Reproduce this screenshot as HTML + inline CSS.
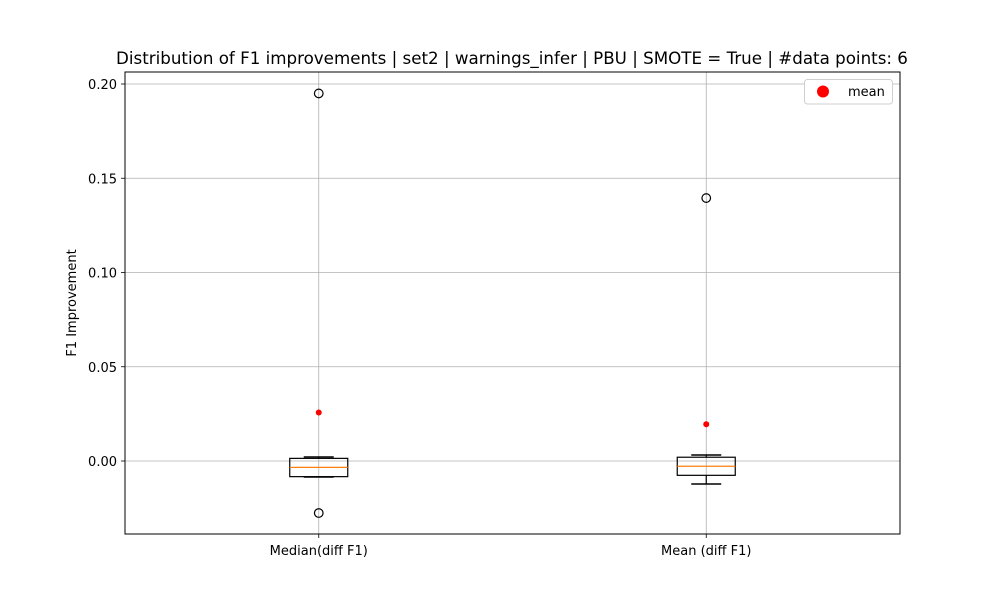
<!DOCTYPE html>
<html><head><meta charset="utf-8"><style>
body{margin:0;background:#fff;}
svg{display:block;font-family:"DejaVu Sans","Liberation Sans",sans-serif;}
</style></head><body>
<svg id="chart" width="1000" height="600"></svg>
<script>
const categories=["Median(diff F1)","Mean (diff F1)"];
const q1s=[-0.0083,-0.0076];
const medians=[-0.0034,-0.0028];
const q3s=[0.0014,0.0020];
const whiskerLows=[-0.0085,-0.0122];
const whiskerHighs=[0.0021,0.0032];
const means=[0.0257,0.0195];
const outliers=[[0.195,-0.0276],[0.1395]];
const yTicks=[0.00,0.05,0.10,0.15,0.20];
const yTickLabels=["0.00","0.05","0.10","0.15","0.20"];

const NS="http://www.w3.org/2000/svg";
const svg=document.getElementById('chart');
const L=125,R=900,T=72,B=534;
const y=v=>461-1885*v;
const x=i=>L+(R-L)*(i+0.5)/categories.length;
function mk(tag,attrs,parent){const e=document.createElementNS(NS,tag);for(const k in attrs)e.setAttribute(k,attrs[k]);(parent||svg).appendChild(e);return e;}

let t=mk('text',{x:512,y:64,'text-anchor':'middle','font-size':16.7});
t.textContent="Distribution of F1 improvements | set2 | warnings_infer | PBU | SMOTE = True | #data points: 6";



yTicks.forEach((v,i)=>{
  const g=mk('line',{x1:L,x2:R,y1:y(v),y2:y(v),stroke:'#b0b0b0','stroke-width':0.8});
  
  
  mk('line',{x1:L-4,x2:L,y1:y(v),y2:y(v),stroke:'#000','stroke-width':0.8});
  const lb=mk('text',{x:L-8,y:y(v)+5,'text-anchor':'end','font-size':13});
  lb.textContent=yTickLabels[i];
  
  
});
categories.forEach((c,i)=>{
  const g=mk('line',{x1:x(i),x2:x(i),y1:T,y2:B,stroke:'#b0b0b0','stroke-width':0.8});
  
  
  mk('line',{x1:x(i),x2:x(i),y1:B,y2:B+4,stroke:'#000','stroke-width':0.8});
  const lb=mk('text',{x:x(i),y:B+21,'text-anchor':'middle','font-size':13});
  lb.textContent=c;
  
  
});
const yl=mk('text',{x:76,y:303,'text-anchor':'middle','font-size':13,transform:'rotate(-90 76 303)'});
yl.textContent="F1 Improvement";



categories.forEach((c,i)=>{
  const cx=x(i),bw=29,cw=15;
  const g=mk('g',{});
  
  
  mk('line',{x1:cx,x2:cx,y1:y(q3s[i]),y2:y(whiskerHighs[i]),stroke:'#000','stroke-width':1.2},g);
  mk('line',{x1:cx,x2:cx,y1:y(q1s[i]),y2:y(whiskerLows[i]),stroke:'#000','stroke-width':1.2},g);
  mk('line',{x1:cx-cw,x2:cx+cw,y1:y(whiskerHighs[i]),y2:y(whiskerHighs[i]),stroke:'#000','stroke-width':1.5},g);
  mk('line',{x1:cx-cw,x2:cx+cw,y1:y(whiskerLows[i]),y2:y(whiskerLows[i]),stroke:'#000','stroke-width':1.5},g);
  mk('rect',{x:cx-bw,y:y(q3s[i]),width:2*bw,height:y(q1s[i])-y(q3s[i]),fill:'none',stroke:'#000','stroke-width':1.2},g);
  mk('line',{x1:cx-bw,x2:cx+bw,y1:y(medians[i]),y2:y(medians[i]),stroke:'#ff7f0e','stroke-width':1.2},g);
  outliers[i].forEach(v=>{
    const o=mk('circle',{cx:cx,cy:y(v),r:4.3,fill:'none',stroke:'#000','stroke-width':1.2},g);
    
    
  });
  const m=mk('circle',{cx:cx,cy:y(means[i]),r:3,fill:'#ff0000'},g);
  
  
});

const ax=mk('rect',{x:L,y:T,width:R-L,height:B-T,fill:'none',stroke:'#000','stroke-width':1});



const lg=mk('g',{});


mk('rect',{x:804.5,y:79.5,width:88,height:24.5,rx:3,fill:'#fff',stroke:'#d0d0d0'},lg);
mk('circle',{cx:823,cy:91.5,r:6,fill:'#ff0000'},lg);
const lt=mk('text',{x:848,y:96,'font-size':13},lg);
lt.textContent="mean";


</script>
</body></html>
